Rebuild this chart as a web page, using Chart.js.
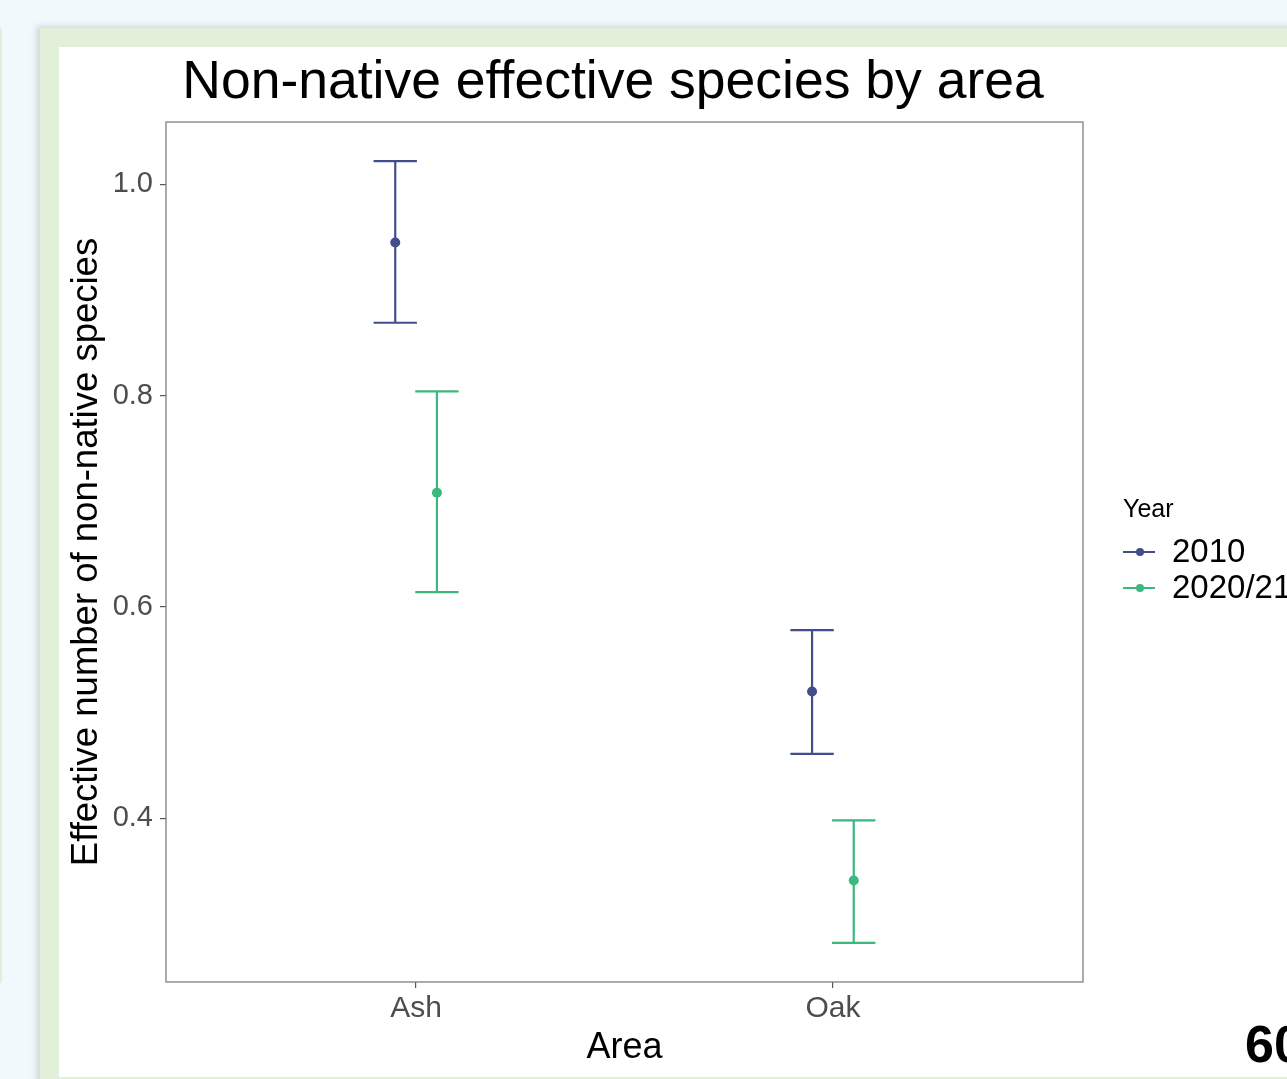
<!DOCTYPE html>
<html>
<head>
<meta charset="utf-8">
<title>Non-native effective species by area</title>
<script src="https://cdn.jsdelivr.net/npm/chart.js@4.4.1/dist/chart.umd.min.js"></script>
<style>
  html, body { margin: 0; padding: 0; width: 1287px; height: 1079px; overflow: hidden; background: #f1f9fd; }
  #strip { position: absolute; left: 0; top: 28px; width: 2px; height: 955px; background: #e2efd9; }
  #frame { position: absolute; left: 40px; top: 28px; width: 1300px; height: 1100px; background: #e2efd9;
           box-shadow: -4px -2px 6px rgba(0, 0, 0, 0.13); }
  #sheet { position: absolute; left: 59px; top: 47px; width: 1300px; height: 1030px; background: #fff; }
  #wrap { position: absolute; left: 59px; top: 47px; width: 1260px; height: 1032px; }
  #pageNo { position: absolute; left: 1245px; top: 1014px; font: bold 52px 'Liberation Sans', Arial, sans-serif;
            color: #000; white-space: nowrap; }
</style>
</head>
<body>
<div id="strip"></div>
<div id="frame"></div>
<div id="sheet"></div>
<div id="wrap"><canvas id="speciesChart" width="1260" height="1032"></canvas></div>
<div id="pageNo">60</div>

<script>
// ---- data ----
const areas = ['Ash', 'Oak'];
const years = ['2010', '2020/21'];

const mean2010  = [0.945, 0.520];
const lower2010 = [0.869, 0.461];
const upper2010 = [1.022, 0.578];

const mean2021  = [0.708, 0.341];
const lower2021 = [0.614, 0.282];
const upper2021 = [0.804, 0.398];

const yTicks = [0.4, 0.6, 0.8, 1.0];

// ---- look ----
const colors = {
  y2010: '#414e8b',
  y2021: '#3bb87e',
  axisText: '#4d4d4d',
  frame: '#7f7f7f'
};
const FONT = "'Liberation Sans', Arial, Helvetica, sans-serif";
const dodge = 0.05;     // position_dodge half width
const capHalf = 0.052;  // errorbar cap half width (x units)

// y range with ggplot style 5% expansion
const allLow = Math.min(...lower2010, ...lower2021);
const allHigh = Math.max(...upper2010, ...upper2021);
const yPad = (allHigh - allLow) * 0.05;

function makeSeries(mean, lower, upper, shift) {
  return mean.map((m, i) => ({ x: i + 1 + shift, y: m, lo: lower[i], hi: upper[i] }));
}

// error bars + panel border
const errorBarPlugin = {
  id: 'errorBars',
  beforeDatasetsDraw(chart) {
    const { ctx, chartArea, scales: { x, y } } = chart;
    ctx.save();
    ctx.strokeStyle = colors.frame;
    ctx.lineWidth = 1.3;
    ctx.strokeRect(chartArea.left, chartArea.top, chartArea.right - chartArea.left, chartArea.bottom - chartArea.top);

    chart.data.datasets.forEach(ds => {
      ctx.strokeStyle = ds.backgroundColor;
      ctx.lineWidth = 2.2;
      ds.data.forEach(p => {
        const px = x.getPixelForValue(p.x);
        const x0 = x.getPixelForValue(p.x - capHalf);
        const x1 = x.getPixelForValue(p.x + capHalf);
        const yl = y.getPixelForValue(p.lo);
        const yh = y.getPixelForValue(p.hi);
        ctx.beginPath();
        ctx.moveTo(px, yh); ctx.lineTo(px, yl);
        ctx.moveTo(x0, yh); ctx.lineTo(x1, yh);
        ctx.moveTo(x0, yl); ctx.lineTo(x1, yl);
        ctx.stroke();
      });
    });
    ctx.restore();
  }
};

// title + legend in ggplot placement
const decorPlugin = {
  id: 'decor',
  afterDraw(chart) {
    const { ctx } = chart;
    ctx.save();
    ctx.fillStyle = '#000';
    ctx.textAlign = 'center';
    ctx.textBaseline = 'alphabetic';
    ctx.font = '53.5px ' + FONT;
    ctx.fillText('Non-native effective species by area', 554, 51);

    // legend
    ctx.textAlign = 'left';
    ctx.font = '25px ' + FONT;
    ctx.fillText('Year', 1064, 470);
    ctx.font = '33px ' + FONT;
    ctx.textBaseline = 'middle';
    chart.data.datasets.forEach((ds, i) => {
      const ly = 505 + i * 36;
      ctx.strokeStyle = ds.backgroundColor;
      ctx.fillStyle = ds.backgroundColor;
      ctx.lineWidth = 2;
      ctx.beginPath();
      ctx.moveTo(1064, ly); ctx.lineTo(1096, ly);
      ctx.stroke();
      ctx.beginPath();
      ctx.arc(1081, ly, 4, 0, Math.PI * 2);
      ctx.fill();
      ctx.fillStyle = '#000';
      ctx.fillText(ds.label, 1113, ly + 1);
    });
    ctx.restore();
  }
};

function renderChart() {
  const ctx = document.getElementById('speciesChart');
  new Chart(ctx, {
    type: 'scatter',
    data: {
      datasets: [
        {
          label: years[0],
          data: makeSeries(mean2010, lower2010, upper2010, -dodge),
          backgroundColor: colors.y2010,
          borderWidth: 0,
          pointRadius: 5
        },
        {
          label: years[1],
          data: makeSeries(mean2021, lower2021, upper2021, dodge),
          backgroundColor: colors.y2021,
          borderWidth: 0,
          pointRadius: 5
        }
      ]
    },
    options: {
      responsive: false,
      animation: false,
      events: [],
      layout: { padding: { top: 75, right: 236, bottom: 0, left: 0 } },
      plugins: {
        legend: { display: false },
        title: { display: false },
        tooltip: { enabled: false }
      },
      scales: {
        x: {
          type: 'linear',
          min: 0.4,
          max: 2.6,
          afterBuildTicks: (scale) => { scale.ticks = areas.map((a, i) => ({ value: i + 1 })); },
          afterFit: (scale) => { scale.height = 97; },
          ticks: {
            callback: (v) => areas[v - 1],
            color: colors.axisText,
            font: { family: FONT, size: 30 },
            padding: 3,
            maxRotation: 0
          },
          grid: { drawOnChartArea: false, tickLength: 6, color: '#555', lineWidth: 1.2 },
          border: { display: false },
          title: {
            display: true,
            text: 'Area',
            color: '#000',
            font: { family: FONT, size: 36, lineHeight: 1.2 },
            padding: { top: 0, bottom: 9 }
          }
        },
        y: {
          min: allLow - yPad,
          max: allHigh + yPad,
          afterBuildTicks: (scale) => { scale.ticks = yTicks.map(v => ({ value: v })); },
          afterFit: (scale) => { scale.width = 107; },
          ticks: {
            callback: (v) => v.toFixed(1),
            color: colors.axisText,
            font: { family: FONT, size: 29 },
            padding: 7
          },
          grid: { drawOnChartArea: false, tickLength: 6, color: '#555', lineWidth: 1.2 },
          border: { display: false },
          title: {
            display: true,
            text: 'Effective number of non-native species',
            color: '#000',
            font: { family: FONT, size: 36.5, lineHeight: 1.2 },
            padding: { top: 6, bottom: 0 }
          }
        }
      }
    },
    plugins: [errorBarPlugin, decorPlugin]
  });
}

document.addEventListener('DOMContentLoaded', renderChart);
</script>
</body>
</html>
